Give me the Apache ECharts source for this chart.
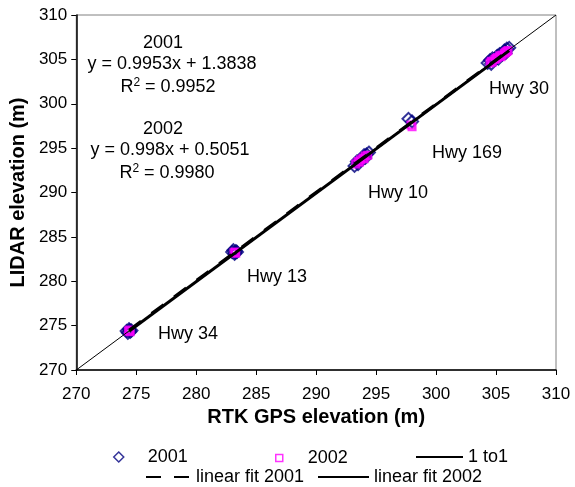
<!DOCTYPE html>
<html>
<head>
<meta charset="utf-8">
<script src="https://cdn.jsdelivr.net/npm/echarts@6/dist/echarts.min.js"></script>
<style>
  html, body { margin: 0; padding: 0; background: #fff; }
  #chart { width: 575px; height: 487px; }
</style>
</head>
<body>
<div id="chart"></div>
<script>
// RTK GPS (x) vs LIDAR (y) elevations, m
const gps2001 = [274.2, 274.3, 274.4, 274.5, 274.6, 274.45, 283.0, 283.1, 283.2, 283.3, 283.4, 283.25,
  293.2, 293.4, 293.5, 293.6, 293.8, 294.0, 294.1, 294.2, 294.4, 297.7, 298.0,
  304.3, 304.5, 304.6, 304.7, 304.9, 305.1, 305.2, 305.3, 305.5, 305.7, 305.8, 305.9, 306.1]
const lidar2001 = [274.4, 274.2, 274.6, 274.3, 274.45, 274.5, 283.3, 283.5, 283.1, 283.4, 283.3, 283.2,
  293.0, 293.5, 293.2, 293.6, 293.7, 294.2, 293.9, 294.3, 294.5, 298.3, 298.0,
  304.6, 304.9, 304.5, 305.1, 305.0, 305.4, 305.1, 305.6, 305.5, 306.0, 305.7, 306.2, 306.3]
const gps2002 = [274.35, 274.45, 274.5, 283.15, 283.25, 283.3,
  293.3, 293.5, 293.6, 293.7, 293.9, 294.0, 294.1, 294.3, 297.9, 298.0,
  304.5, 304.6, 304.7, 304.9, 305.0, 305.1, 305.3, 305.4, 305.5, 305.7, 305.8, 305.9, 306.0]
const lidar2002 = [274.4, 274.5, 274.3, 283.2, 283.3, 283.15,
  293.2, 293.5, 293.4, 293.7, 293.9, 293.8, 294.1, 294.2, 297.6, 297.4,
  304.6, 304.8, 304.7, 305.0, 305.1, 305.2, 305.4, 305.3, 305.5, 305.7, 305.8, 305.9, 306.0]
// line end points
const oneToOne = [[270, 270], [310, 310]]
const fit2001 = [[274.4, 274.49], [306.1, 306.05]]
const fit2002 = [[274.4, 274.36], [306.1, 305.99]]
const axisTicks = [270, 275, 280, 285, 290, 295, 300, 305, 310]

const font = 'Liberation Sans, Arial, sans-serif'
const zip = (a, b) => a.map((v, i) => [v, b[i]])

const chart = echarts.init(document.getElementById('chart'))

// one legend box per item so each can sit where the original does
const legendBox = (name, left, top, w, h, pad, hideSymbol) => ({
  data: [name], left: left, top: top, orient: 'horizontal',
  itemWidth: w, itemHeight: h, padding: 0, selectedMode: false,
  itemStyle: hideSymbol ? { opacity: 0 } : { borderWidth: 1.5 },
  textStyle: { fontFamily: font, fontSize: 18, color: '#000', padding: [0, 0, 0, pad] }
})

const hwy = (text, x, y) => ({
  type: 'text', left: x, top: y,
  style: { text: text, fill: '#000', font: '18px ' + font }
})

const eq = (text, cx, y) => ({
  type: 'text', x: cx, y: y,
  style: { text: text, fill: '#000', font: '18px ' + font, align: 'center', verticalAlign: 'middle',
    rich: { sup: { fontSize: 12, verticalAlign: 'top', padding: [0, 0, 9, 0], fontFamily: font } } }
})

const option = {
  animation: false,
  backgroundColor: '#fff',
  grid: { left: 76, right: 19, top: 15, bottom: 117, show: true, borderColor: '#808080', borderWidth: 1 },
  xAxis: {
    type: 'value', min: axisTicks[0], max: axisTicks[axisTicks.length - 1], interval: 5,
    name: 'RTK GPS elevation (m)', nameLocation: 'middle', nameGap: 34,
    nameTextStyle: { fontFamily: font, fontSize: 20, fontWeight: 'bold', color: '#000' },
    axisLine: { lineStyle: { color: '#000', width: 1.5 } },
    axisTick: { show: true, length: 5, lineStyle: { color: '#000' } },
    axisLabel: { fontFamily: font, fontSize: 17, color: '#000', margin: 16 },
    splitLine: { show: false }
  },
  yAxis: {
    type: 'value', min: axisTicks[0], max: axisTicks[axisTicks.length - 1], interval: 5,
    name: 'LIDAR elevation (m)', nameLocation: 'middle', nameGap: 48,
    nameTextStyle: { fontFamily: font, fontSize: 20, fontWeight: 'bold', color: '#000' },
    axisLine: { show: true, lineStyle: { color: '#000', width: 1.5 } },
    axisTick: { show: true, length: 5, lineStyle: { color: '#000' } },
    axisLabel: { fontFamily: font, fontSize: 17, color: '#000', margin: 9 },
    splitLine: { show: false }
  },
  legend: [
    legendBox('2001', 113, 448, 10, 10, 19, false),
    legendBox('2002', 275, 449, 7, 7, 20, false),
    legendBox('1 to1', 415, 448, 47, 10, 0, true),
    legendBox('linear fit 2001', 145, 468, 43, 10, 2, true),
    legendBox('linear fit 2002', 317, 468, 51, 10, 0, true)
  ],
  series: [
    {
      name: '2001', type: 'scatter', symbol: 'diamond', symbolSize: 12,
      itemStyle: { color: 'rgba(255,255,255,0)', borderColor: '#000080', borderWidth: 2 },
      data: zip(gps2001, lidar2001), z: 2
    },
    {
      name: '2002', type: 'scatter', symbol: 'rect', symbolSize: 7,
      itemStyle: { color: 'rgba(255,255,255,0)', borderColor: '#FF00FF', borderWidth: 2 },
      data: zip(gps2002, lidar2002), z: 3
    },
    {
      name: '1 to1', type: 'line', symbol: 'none', data: oneToOne,
      lineStyle: { color: '#000', width: 1 }, itemStyle: { color: '#000' }, z: 4
    },
    {
      name: 'linear fit 2002', type: 'line', symbol: 'none', data: fit2002,
      lineStyle: { color: '#000', width: 3 }, itemStyle: { color: '#000' }, z: 5
    },
    {
      name: 'linear fit 2001', type: 'line', symbol: 'none', data: fit2001,
      lineStyle: { color: '#000', width: 3, type: [15, 13] }, itemStyle: { color: '#000' }, z: 6
    }
  ],
  graphic: [
    eq('2001', 163, 43),
    eq('y = 0.9953x + 1.3838', 172, 64),
    eq('R{sup|2} = 0.9952', 168, 87),
    eq('2002', 163, 129),
    eq('y = 0.998x + 0.5051', 170, 150),
    eq('R{sup|2} = 0.9980', 167, 173),
    hwy('Hwy 30', 489, 80),
    hwy('Hwy 169', 432, 144),
    hwy('Hwy 10', 368, 184),
    hwy('Hwy 13', 247, 268),
    hwy('Hwy 34', 158, 325)
  ]
}

chart.setOption(option)
</script>
</body>
</html>
